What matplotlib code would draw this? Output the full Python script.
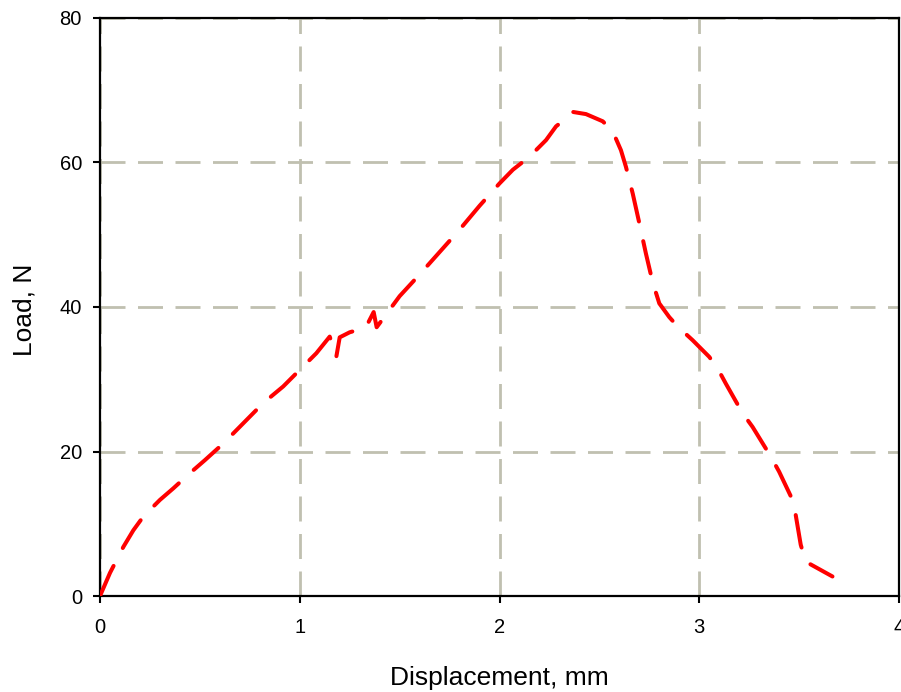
import matplotlib
matplotlib.use("Agg")
import matplotlib.pyplot as plt

# Data (Displacement mm, Load N)
displacement = [0.0, 0.05, 0.117, 0.167, 0.217, 0.3, 0.367, 0.45, 0.525, 0.617,
                0.717, 0.817, 0.917, 1.0, 1.083, 1.15, 1.183, 1.2, 1.25, 1.3,
                1.333, 1.37, 1.385, 1.42, 1.5, 1.6, 1.7, 1.8, 1.9, 2.0,
                2.067, 2.15, 2.233, 2.283, 2.333, 2.367, 2.433, 2.517, 2.567, 2.608,
                2.633, 2.667, 2.7, 2.733, 2.767, 2.8, 2.85, 2.892, 2.967, 3.05,
                3.092, 3.133, 3.217, 3.267, 3.358, 3.4, 3.467, 3.483, 3.508, 3.533,
                3.667]
load = [0.0, 3.2, 6.8, 9.1, 11.0, 13.3, 14.9, 17.0, 18.8, 21.1,
        23.9, 26.7, 29.0, 31.3, 33.6, 35.9, 33.1, 35.8, 36.5, 36.9,
        37.3, 39.3, 37.2, 38.5, 41.5, 44.5, 47.6, 50.7, 54.0, 57.1,
        59.0, 60.8, 63.1, 65.0, 66.1, 67.0, 66.7, 65.7, 64.3, 61.7,
        59.4, 55.7, 51.6, 47.4, 43.4, 40.5, 38.6, 37.3, 35.4, 33.1,
        31.5, 29.4, 25.3, 23.4, 19.3, 17.2, 13.3, 11.2, 7.1, 4.75,
        2.7]

x_ticks = [0, 1, 2, 3, 4]
y_ticks = [0, 20, 40, 60, 80]

plt.rcParams['font.family'] = ['Liberation Sans', 'DejaVu Sans']

fig = plt.figure(figsize=(9.01, 6.92), dpi=100)
W, H = 901, 692
ax = fig.add_axes([100 / W, (H - 596) / H, 799 / W, 578 / H])

ax.plot(displacement, load, color='#FF0000', linewidth=2.9,
        linestyle=(0, (8.2, 5)), dash_capstyle='round', solid_capstyle='round',
        zorder=3)

ax.set_xlim(0, 4)
ax.set_ylim(0, 80)
ax.set_xticks(x_ticks)
ax.set_yticks(y_ticks)
ax.set_xticklabels([str(t) for t in x_ticks])
ax.set_yticklabels([str(t) for t in y_ticks])

ax.grid(True, color='#C0C0B0', linestyle=(0, (9, 4.5)), linewidth=2.0, zorder=1)
ax.set_axisbelow(True)

for s in ax.spines.values():
    s.set_linewidth(1.6)
    s.set_color('black')

ax.tick_params(axis='both', direction='out', length=5, width=1.5,
               labelsize=14.5, colors='black')
ax.tick_params(axis='y', pad=8)
ax.tick_params(axis='x', pad=10.5)
ax.tick_params(top=False, right=False)

ax.set_xlabel('Displacement, mm', fontsize=19)
ax.set_ylabel('Load, N', fontsize=19)
ax.xaxis.set_label_coords(0.5, -0.142)
ax.xaxis.label.set_va('center')
ax.yaxis.set_label_coords(-0.095, 0.495)
ax.yaxis.label.set_va('center')

fig.savefig('out.png', dpi=100)
